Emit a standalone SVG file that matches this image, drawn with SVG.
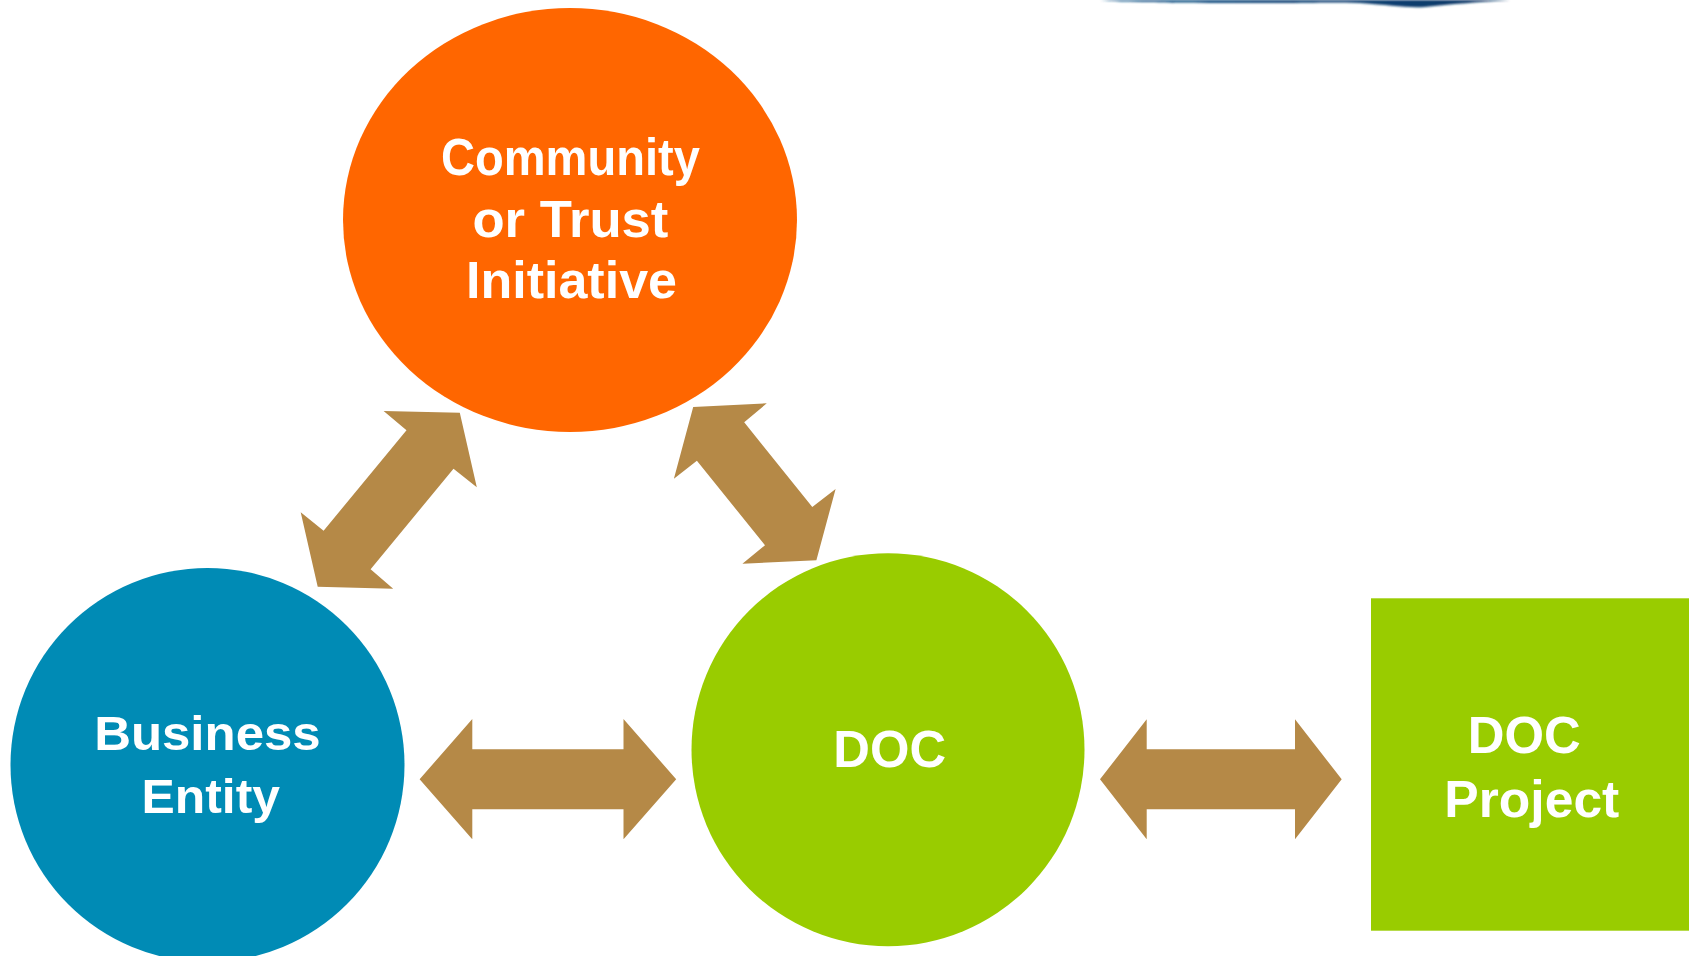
<svg xmlns="http://www.w3.org/2000/svg" width="1689" height="956" viewBox="0 0 1689 956">
  <style>
    .label { font-family: "Liberation Sans", Arial, sans-serif; font-weight: bold; font-size: 52px; fill: #ffffff; text-anchor: middle; }
    .arrow { fill: #B58947; }
  </style>
  <defs>
    <filter id="soft" x="-5%" y="-100%" width="110%" height="300%">
      <feGaussianBlur stdDeviation="0.8"/>
    </filter>
    <linearGradient id="navy" x1="0" y1="0" x2="1" y2="0">
      <stop offset="0" stop-color="#1d5d8f"/>
      <stop offset="0.5" stop-color="#124476"/>
      <stop offset="1" stop-color="#0f3766"/>
    </linearGradient>
  </defs>

  <rect width="1689" height="956" fill="#ffffff"/>

  <!-- edge of a dark shape cut by the top border -->
  <path d="M1100,0 L1510,0 C1480,2 1450,4 1425,7 C1405,8 1390,5 1360,3 C1330,2 1310,3 1280,3 C1230,3 1170,3 1150,2 C1130,2 1110,1 1100,0 Z" fill="url(#navy)" filter="url(#soft)"/>

  <g id="connectors">
    <!-- community <-> business -->
    <polygon class="arrow" points="459.8,412.7 476.8,487.3 453.5,468.7 370.6,569.3 393.2,588.7 317.7,586.7 300.7,512.3 323.6,530.7 406.5,430.3 383.6,411"/>
    <!-- community <-> DOC -->
    <polygon class="arrow" points="693.2,407 766.8,403.3 744.2,422.3 812.3,507 835.6,489 816.4,560.3 742.4,563.7 765,545.3 696.9,460.7 673.9,478.7"/>
    <!-- business <-> DOC -->
    <polygon class="arrow" points="419.6,779.3 472.3,719 472.3,749.3 623.5,749.3 623.5,719 676.2,779.3 623.5,839.3 623.5,809.3 472.3,809.3 472.3,839.3"/>
    <!-- DOC <-> DOC project -->
    <polygon class="arrow" points="1100,779.3 1146.7,719.3 1146.7,749.3 1295,749.3 1295,719.3 1341.7,779.3 1295,839.3 1295,809.3 1146.7,809.3 1146.7,839.3"/>
  </g>

  <g id="community">
    <ellipse cx="570" cy="220" rx="227" ry="212" fill="#FF6600"/>
    <text class="label" x="570.4" y="174.5" textLength="259" lengthAdjust="spacingAndGlyphs">Community</text>
    <text class="label" x="570.4" y="236.7" textLength="196" lengthAdjust="spacingAndGlyphs">or Trust</text>
    <text class="label" x="571.5" y="297.7" textLength="211" lengthAdjust="spacingAndGlyphs">Initiative</text>
  </g>

  <g id="business">
    <circle cx="207.5" cy="765" r="197" fill="#008BB5"/>
    <text class="label" x="207.4" y="749.5" textLength="226.5" lengthAdjust="spacingAndGlyphs" style="font-size:49px">Business</text>
    <text class="label" x="210.8" y="812.5" textLength="138.5" lengthAdjust="spacingAndGlyphs" style="font-size:49px">Entity</text>
  </g>

  <g id="doc">
    <circle cx="888" cy="749.7" r="196.5" fill="#99CC00"/>
    <text class="label" x="889.7" y="766.7" textLength="112.7" lengthAdjust="spacingAndGlyphs">DOC</text>
  </g>

  <g id="doc-project">
    <rect x="1371" y="598.3" width="330" height="332.4" fill="#99CC00"/>
    <text class="label" x="1524.2" y="752.7" textLength="113" lengthAdjust="spacingAndGlyphs">DOC</text>
    <text class="label" x="1531.8" y="816.7" textLength="175" lengthAdjust="spacingAndGlyphs">Project</text>
  </g>
</svg>
